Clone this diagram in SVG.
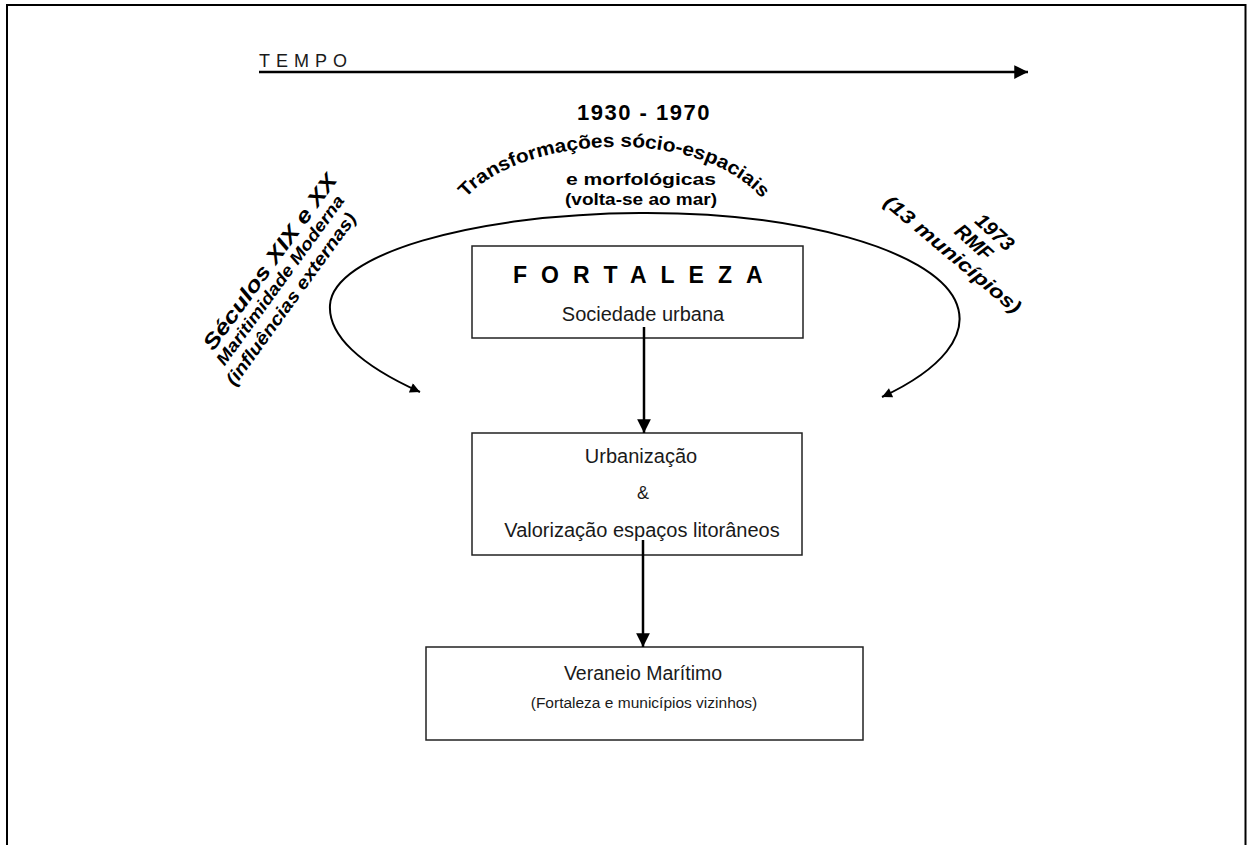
<svg xmlns="http://www.w3.org/2000/svg" width="1247" height="845" viewBox="0 0 1247 845">
  <defs>
    <style>
      .box { fill: #ffffff; stroke: #222222; stroke-width: 1.5; }
      .lbl { font-family: "Liberation Sans", Arial, sans-serif; fill: #1a1a1a; text-anchor: middle; }
      .wa { font-family: "Liberation Sans", Arial, sans-serif; fill: #000000; font-weight: bold; text-anchor: middle; }
      .wai { font-family: "Liberation Sans", Arial, sans-serif; fill: #000000; font-weight: bold; font-style: italic; text-anchor: middle; }
      .conn { fill: none; stroke: #000000; }
    </style>
    <marker id="ah" viewBox="0 0 10 10" refX="10" refY="5" markerWidth="6" markerHeight="5.5" markerUnits="strokeWidth" orient="auto-start-reverse">
      <path d="M0,0 L10,5 L0,10 Z" fill="#000000"/>
    </marker>
    <marker id="ahs" viewBox="0 0 10 10" refX="10" refY="5" markerWidth="7" markerHeight="5" markerUnits="strokeWidth" orient="auto-start-reverse">
      <path d="M0,0 L10,5 L0,10 Z" fill="#000000"/>
    </marker>
  </defs>

  <rect width="1247" height="845" fill="#ffffff"/>

  <!-- frame -->
  <path d="M7 845 V5 H1245.5 V845" fill="none" stroke="#000000" stroke-width="2"/>

  <!-- timeline label -->
  <g id="tempo">
    <text x="259" y="67" font-family="Liberation Sans, Arial, sans-serif" font-size="18" letter-spacing="6" fill="#1a1a1a">TEMPO</text>
  </g>

  <!-- central WordArt text -->
  <g id="periodo-1930-1970">
    <text class="wa" x="644" y="120" font-size="22" letter-spacing="1.5">1930 - 1970</text>
    <path id="arcpath" d="M 466 198 C 520 136, 705 121, 768 206" fill="none"/>
    <text class="wa" font-size="19" style="text-anchor:start"><textPath href="#arcpath" textLength="322" lengthAdjust="spacingAndGlyphs">Transformações sócio-espaciais</textPath></text>
    <text class="wa" x="641" y="185" font-size="17" textLength="150" lengthAdjust="spacingAndGlyphs">e morfológicas</text>
    <text class="wa" x="641" y="205" font-size="16" textLength="152" lengthAdjust="spacingAndGlyphs">(volta-se ao mar)</text>
  </g>

  <!-- left WordArt text -->
  <g id="seculos-xix-xx">
    <text class="wai" font-size="21" textLength="212" lengthAdjust="spacingAndGlyphs" transform="translate(270,262) rotate(-54)" x="0" y="7">Séculos XIX e XX</text>
    <text class="wai" font-size="17" textLength="205" lengthAdjust="spacingAndGlyphs" transform="translate(280,280) rotate(-54)" x="0" y="6">Maritimidade Moderna</text>
    <text class="wai" font-size="18" textLength="208" lengthAdjust="spacingAndGlyphs" transform="translate(291,299) rotate(-54)" x="0" y="6">(influências externas)</text>
  </g>

  <!-- right WordArt text -->
  <g id="rmf-1973">
    <text class="wai" font-size="20" transform="translate(995,232) rotate(42)" x="0" y="7">1973</text>
    <text class="wai" font-size="20" transform="translate(974,242) rotate(42)" x="0" y="7">RMF</text>
    <text class="wai" font-size="19" textLength="172" lengthAdjust="spacingAndGlyphs" transform="translate(953,254) rotate(40)" x="0" y="7">(13 municípios)</text>
  </g>

  <!-- nodes -->
  <g id="fortaleza">
    <rect class="box" x="472" y="246" width="331" height="92"/>
    <text x="513" y="283" font-family="Liberation Sans, Arial, sans-serif" font-size="23" font-weight="bold" letter-spacing="14" fill="#000000">FORTALEZA</text>
    <text class="lbl" x="643" y="321" font-size="20">Sociedade urbana</text>
  </g>

  <g id="urbanizacao">
    <rect class="box" x="472" y="433" width="330" height="122"/>
    <text class="lbl" x="641" y="463" font-size="20">Urbanização</text>
    <text class="lbl" x="643" y="499" font-size="18">&amp;</text>
    <text class="lbl" x="642" y="537" font-size="20">Valorização espaços litorâneos</text>
  </g>

  <g id="veraneio">
    <rect class="box" x="426" y="647" width="437" height="93"/>
    <text class="lbl" x="643" y="680" font-size="19.5">Veraneio Marítimo</text>
    <text class="lbl" x="644" y="708" font-size="15.5">(Fortaleza e municípios vizinhos)</text>
  </g>

  <!-- connectors -->
  <g id="connectors">
    <line class="conn" x1="259" y1="72" x2="1028" y2="72" stroke-width="2.5" marker-end="url(#ah)"/>
    <path class="conn" d="M 420 392 C 360 365, 328 335, 330 305 C 333 255, 470 214, 640 213 C 800 212, 930 250, 955 300 C 972 335, 940 370, 882 397" stroke-width="2" marker-start="url(#ahs)" marker-end="url(#ahs)"/>
    <line class="conn" x1="644" y1="327" x2="644" y2="433" stroke-width="2.5" marker-end="url(#ah)"/>
    <line class="conn" x1="643" y1="540" x2="643" y2="647" stroke-width="2.5" marker-end="url(#ah)"/>
  </g>
</svg>
